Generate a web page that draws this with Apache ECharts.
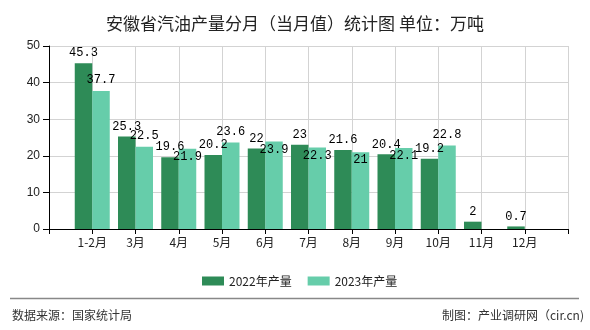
<!DOCTYPE html>
<html>
<head>
<meta charset="utf-8">
<script src="https://cdn.jsdelivr.net/npm/echarts@6/dist/echarts.min.js"></script>
<style>
html,body{margin:0;padding:0;background:#fff;}
#main{width:590px;height:330px;}
</style>
</head>
<body>
<div id="main"></div>
<script>
const categories = ['1-2月','3月','4月','5月','6月','7月','8月','9月','10月','11月','12月'];
const values2022 = [45.3, 25.3, 19.6, 20.2, 22, 23, 21.6, 20.4, 19.2, 2, 0.7];
const values2023 = [37.7, 22.5, 21.9, 23.6, 23.9, 22.3, 21, 22.1, 22.8, null, null];
const seriesNames = ['2022年产量', '2023年产量'];
const yTicks = [0, 10, 20, 30, 40, 50];

const cjk = '"Noto Sans CJK SC", "Noto Sans", sans-serif';
const mono = '"Liberation Mono", "DejaVu Sans Mono", monospace';

const axisData = [''].concat(categories, ['']);
const pad = arr => [null].concat(arr, [null]);

const d2022 = pad(values2022);
const d2023 = pad(values2023).map((v, i) => {
  if (v == null) return null;
  const other = d2022[i];
  const close = other != null && Math.abs(v - other) < 2.5;
  return { value: v, label: { position: close ? 'insideTop' : 'top', distance: close ? 2 : 5 } };
});

const chart = echarts.init(document.getElementById('main'), null, { renderer: 'canvas' });
chart.setOption({
  backgroundColor: '#fff',
  animation: false,
  title: {
    text: '安徽省汽油产量分月（当月值）统计图 单位：万吨',
    left: 'center',
    top: 10,
    textStyle: { fontFamily: cjk, fontSize: 17, fontWeight: 'normal', color: '#222' }
  },
  legend: {
    data: seriesNames,
    left: 197,
    top: 270,
    itemWidth: 22,
    itemHeight: 9,
    itemGap: 16,
    icon: 'rect',
    textStyle: { fontFamily: cjk, fontSize: 12, color: '#222' }
  },
  grid: { left: 49, right: 22, top: 46, bottom: 101, containLabel: false },
  xAxis: {
    type: 'category',
    data: axisData,
    boundaryGap: false,
    axisLine: { lineStyle: { color: '#000', width: 1 } },
    axisTick: { show: true, length: 5, interval: 0, lineStyle: { color: '#000' } },
    axisLabel: { interval: 0, margin: 7, fontFamily: cjk, fontSize: 12, color: '#222' },
    splitLine: { show: true, interval: 0, lineStyle: { color: '#d3d3d3', width: 1 } }
  },
  yAxis: {
    type: 'value',
    min: yTicks[0],
    max: yTicks[yTicks.length - 1],
    interval: 10,
    axisLine: { show: true, lineStyle: { color: '#000', width: 1 } },
    axisTick: { show: true, length: 6, lineStyle: { color: '#000' } },
    axisLabel: { margin: 9, fontFamily: '"Liberation Sans", Arial, sans-serif', fontSize: 12, color: '#222' },
    splitLine: { show: true, lineStyle: { color: '#d3d3d3', width: 1 } }
  },
  series: [
    {
      name: seriesNames[0],
      type: 'bar',
      data: d2022,
      barWidth: 17.5,
      barGap: '0%',
      itemStyle: { color: '#2e8b57' },
      label: { show: true, position: 'top', distance: 4, fontFamily: mono, fontSize: 12, color: '#000' }
    },
    {
      name: seriesNames[1],
      type: 'bar',
      data: d2023,
      barWidth: 17.5,
      barGap: '0%',
      itemStyle: { color: '#66cdaa' },
      label: { show: true, position: 'top', distance: 4, fontFamily: mono, fontSize: 12, color: '#000' }
    }
  ],
  graphic: [
    { type: 'line', shape: { x1: 10, y1: 298.5, x2: 579, y2: 298.5 }, style: { stroke: '#888', lineWidth: 1.5 } },
    { type: 'text', left: 12, top: 309, style: { text: '数据来源：国家统计局', font: '12px "Noto Sans CJK SC", sans-serif', fill: '#333' } },
    { type: 'text', right: 6, top: 309, style: { text: '制图：产业调研网（cir.cn)', font: '12px "Noto Sans CJK SC", sans-serif', fill: '#333' } }
  ]
});
</script>
</body>
</html>
